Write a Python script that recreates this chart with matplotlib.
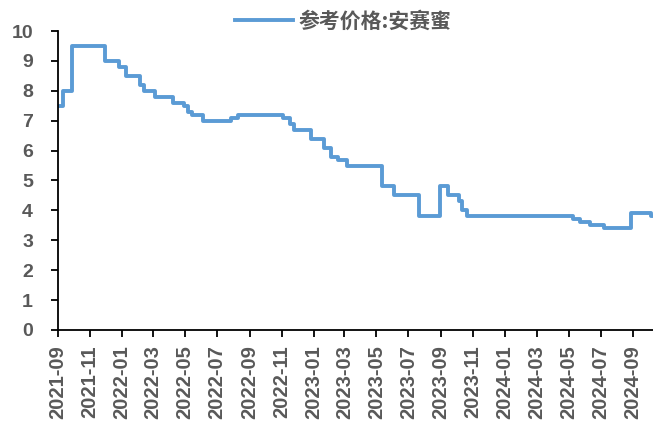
import matplotlib.pyplot as plt
import matplotlib.dates as mdates
import numpy as np
import pandas as pd

plt.rcParams['font.family'] = ['Liberation Sans', 'DejaVu Sans']

# price change points (date, price after the change)
dates = ["2021-09-03", "2021-09-11", "2021-09-28", "2021-11-30", "2021-12-26",
         "2022-01-08", "2022-02-05", "2022-02-12", "2022-03-05", "2022-04-08",
         "2022-04-29", "2022-05-07", "2022-05-14", "2022-06-04", "2022-07-27",
         "2022-08-11", "2022-11-04", "2022-11-17", "2022-11-25", "2022-12-27",
         "2023-01-21", "2023-02-03", "2023-02-16", "2023-03-05", "2023-05-11",
         "2023-06-03", "2023-07-21", "2023-08-30", "2023-09-15", "2023-10-05",
         "2023-10-11", "2023-10-21", "2024-05-09", "2024-05-23", "2024-06-11",
         "2024-07-08", "2024-08-28", "2024-10-05", "2024-10-09"]
prices = [7.5, 8.0, 9.5, 9.0, 8.8,
          8.5, 8.2, 8.0, 7.8, 7.6,
          7.5, 7.3, 7.2, 7.0, 7.1,
          7.2, 7.1, 6.9, 6.7, 6.4,
          6.1, 5.8, 5.7, 5.5, 4.8,
          4.5, 3.8, 4.8, 4.5, 4.3,
          4.0, 3.8, 3.7, 3.6, 3.5,
          3.4, 3.9, 3.8, 3.8]
series_name = "参考价格:安赛蜜"

x = pd.to_datetime(dates)
y = np.array(prices)

grey = "#595959"
blue = "#5B9BD5"

fig = plt.figure(figsize=(6.53, 4.23), dpi=100)
ax = fig.add_axes([0.0888, 0.2199, 0.9112, 0.7068])

line, = ax.plot(x, y, color=blue, lw=2.8, drawstyle="steps-post",
                solid_joinstyle="round")

ax.set_ylim(0, 10)
ax.set_yticks(range(0, 11))
ax.set_xlim(pd.Timestamp("2021-09-01"), pd.Timestamp("2024-10-09"))
ax.xaxis.set_major_locator(mdates.MonthLocator(bymonth=[1, 3, 5, 7, 9, 11]))
ax.xaxis.set_major_formatter(mdates.DateFormatter("%Y-%m"))

for side in ["top", "right"]:
    ax.spines[side].set_visible(False)
for side in ["left", "bottom"]:
    ax.spines[side].set_color("black")
    ax.spines[side].set_linewidth(1.3)

ax.tick_params(axis="y", direction="out", length=5, width=1.3, pad=13,
               labelsize=14, labelcolor=grey)
ax.tick_params(axis="x", direction="out", length=5, width=1.3, pad=6,
               labelsize=14.5, labelcolor=grey, rotation=90)
for lab in ax.get_xticklabels() + ax.get_yticklabels():
    lab.set_fontweight("bold")

fig.legend([line], [series_name], loc="center", bbox_to_anchor=(0.525, 0.95),
           frameon=False, handlelength=2.8, handletextpad=0.25,
           prop={"family": ["Noto Sans CJK SC", "DejaVu Sans"],
                 "weight": "bold", "size": 15},
           labelcolor=grey)

fig.savefig("out.png", dpi=100)
